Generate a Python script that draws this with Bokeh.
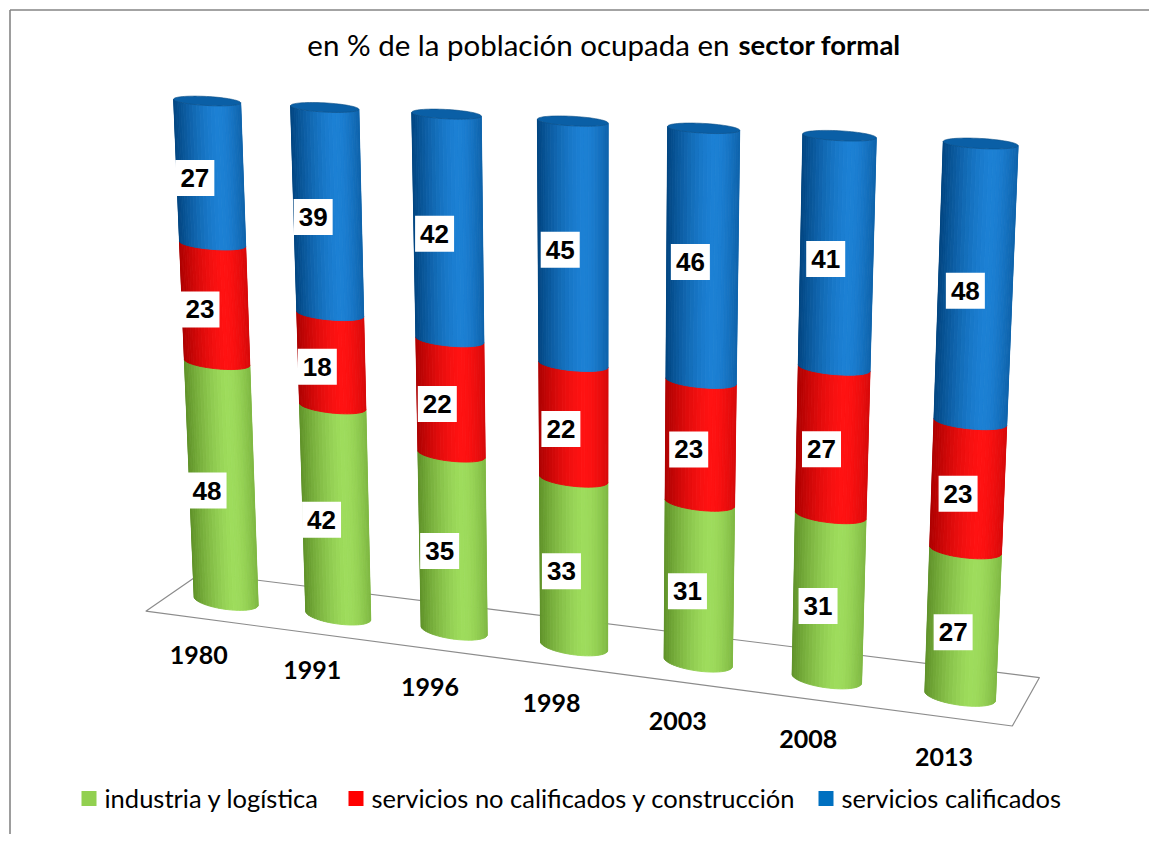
import numpy as np
from bokeh.plotting import figure
from bokeh.models import Range1d, ColumnDataSource
from bokeh.core.properties import value
from bokeh.embed import file_html
from bokeh.resources import INLINE

# ---------------- data ----------------
years = ["1980", "1991", "1996", "1998", "2003", "2008", "2013"]
industria = [48, 42, 35, 33, 31, 31, 27]
no_calificados = [23, 18, 22, 22, 23, 27, 23]
calificados = [27, 39, 42, 45, 46, 41, 48]
series_names = ["industria y logística",
                "servicios no calificados y construcción",
                "servicios calificados"]
title_regular = "en % de la población ocupada en"
title_bold = "sector formal"

# ---------------- styles ----------------
BASE = ["#92D050", "#FF0000", "#0070C0"]
LIGHT = [(158, 220, 92), (255, 18, 18), (28, 128, 212)]
DARK = [(92, 142, 38), (168, 0, 0), (0, 66, 124)]
CAP = "#0A5FA6"
CALIBRI = value("Lato")
ARIAL = value("Liberation Sans")

# ---------------- perspective layout (100% stacked, 3-D cylinders) ----------------
N = len(years)
ANCHOR_SRC = [(0, 0), (N - 1, 0), (0, 100), (N - 1, 100)]
ANCHOR_DST = [(225.5, 600.5), (959.5, 695.5), (206.5, 100.5), (980.0, 143.0)]
K_BOTTOM, K_TOP = 0.26, 0.135   # ellipse openness (vertical / horizontal)
N_STRIPS = 28


def solve_h(src, dst):
    A, B = [], []
    for (x, y), (u, w) in zip(src, dst):
        A.append([x, y, 1, 0, 0, 0, -u * x, -u * y]); B.append(u)
        A.append([0, 0, 0, x, y, 1, -w * x, -w * y]); B.append(w)
    h = np.linalg.solve(np.array(A, float), np.array(B, float))
    return np.append(h, 1.0).reshape(3, 3)


HM = solve_h(ANCHOR_SRC, ANCHOR_DST)


def proj(i, v):
    i = np.asarray(i, float); v = np.asarray(v, float)
    X = HM[0, 0] * i + HM[0, 1] * v + HM[0, 2]
    Y = HM[1, 0] * i + HM[1, 1] * v + HM[1, 2]
    W = HM[2, 0] * i + HM[2, 1] * v + HM[2, 2]
    return X / W, Y / W


def radius(i):
    return 0.29 - 0.005 * i


def surface(i, v, theta):
    r = radius(i)
    lx, ly = proj(i - r, v)
    rx, ry = proj(i + r, v)
    cx, cy = (lx + rx) / 2, (ly + ry) / 2
    ax, ay = (rx - lx) / 2, (ry - ly) / 2
    half = np.hypot(ax, ay)
    b = half * (K_BOTTOM + (K_TOP - K_BOTTOM) * np.asarray(v) / 100.0)
    x = cx + np.cos(theta) * ax
    y = cy + np.cos(theta) * ay + np.sin(theta) * b
    return x, y, b


def shade(k, u):
    if u < 0.35:
        s = 0.55 + 0.45 * np.sin(np.pi / 2 * u / 0.35)
    else:
        s = 1 - 0.95 * ((u - 0.35) / 0.65) ** 1.5
    l, d = LIGHT[k], DARK[k]
    c = [int(round(d[j] + s * (l[j] - d[j]))) for j in range(3)]
    return "#%02x%02x%02x" % tuple(c)


series = [industria, no_calificados, calificados]
totals = [sum(s[n] for s in series) for n in range(N)]

# ---------------- figure ----------------
p = figure(width=1149, height=834, x_range=Range1d(0, 1149), y_range=Range1d(834, 0),
           output_backend="svg", toolbar_location=None, min_border=0,
           x_axis_location=None, y_axis_location=None)
p.grid.visible = False
p.outline_line_color = None
p.background_fill_color = "white"
p.border_fill_color = "white"

# chart border (left/top visible in reference)
p.segment(x0=[9.5, 9.5], y0=[9.5, 9.5], x1=[1149, 9.5], y1=[9.5, 834],
          line_color="#858585", line_width=1.6)

# floor
FLOOR_I = [-0.745, N - 1 + 0.39, N - 1 + 0.57, -0.22]
FLOOR_V = [-4.4, -4.4, 5.4, 5.2]
fx, fy = proj(FLOOR_I, FLOOR_V)
p.patch(list(fx), list(fy), fill_color="white", line_color="#8C8C8C", line_width=1.2)

# cylinders
xs, ys, cols = [], [], []
cap_xs, cap_ys = [], []
thetas = np.linspace(np.pi, 0, N_STRIPS + 1)
for n in range(N):
    cum = 0.0
    for k, s in enumerate(series):
        v0 = cum / totals[n] * 100
        cum += s[n]
        v1 = cum / totals[n] * 100
        for t in range(N_STRIPS):
            ta, tb = thetas[t], thetas[t + 1]
            xa0, ya0, _ = surface(n, v0, ta)
            xb0, yb0, _ = surface(n, v0, tb)
            xb1, yb1, _ = surface(n, v1, tb)
            xa1, ya1, _ = surface(n, v1, ta)
            xs.append([float(xa0), float(xb0), float(xb1), float(xa1)])
            ys.append([float(ya0), float(yb0), float(yb1), float(ya1)])
            u = (1 - np.cos((ta + tb) / 2)) / 2
            cols.append(shade(k, u))
    tt = np.linspace(0, 2 * np.pi, 72)
    cx_, cy_, _ = surface(n, 100.0, tt)
    cap_xs.append(list(cx_)); cap_ys.append(list(cy_))

p.patches(xs="xs", ys="ys", fill_color="c", line_color="c", line_width=0.9,
          source=ColumnDataSource(dict(xs=xs, ys=ys, c=cols)))
p.patches(cap_xs, cap_ys, fill_color=CAP, line_color="#0B4F86", line_width=0.6)

# data labels
lx_, ly_, lt_ = [], [], []
for n in range(N):
    cum = 0.0
    for k, s in enumerate(series):
        v0 = cum / totals[n] * 100
        cum += s[n]
        v1 = cum / totals[n] * 100
        vm = (v0 + v1) / 2
        x, _ = proj(n - 0.13 + 0.01 * n, vm)
        _, y, b = surface(n, vm, np.pi / 2)
        lx_.append(float(x)); ly_.append(float(y)); lt_.append(str(s[n]))
lab = ColumnDataSource(dict(x=lx_, y=ly_, t=lt_))
p.rect(x="x", y="y", width=39, height=36, width_units="screen", height_units="screen",
       fill_color="white", line_color=None, source=lab)
p.text(x="x", y="y", text="t", source=lab, text_font=ARIAL, text_font_style="bold",
       text_font_size="26px", text_align="center", text_baseline="middle", text_color="black")

# category labels
idx = np.arange(N)
cx, cy = proj(idx - 0.27 + 0.028 * idx, np.full(N, -12.2))
p.text(x=list(cx), y=list(cy), text=years, text_font=CALIBRI, text_font_style="bold",
       text_font_size="25px", text_align="center", text_baseline="middle", text_color="black")

# title
p.text(x=[729], y=[44], text=[title_regular], text_font=CALIBRI, text_font_size="29.5px",
       text_align="right", text_baseline="alphabetic", text_color="black")
p.text(x=[738], y=[44], text=[title_bold], text_font=CALIBRI, text_font_style="bold",
       text_font_size="27.5px", text_align="left", text_baseline="alphabetic", text_color="black")

# legend
LEG_SQ_X = [88.5, 355.5, 825.5]
LEG_TX_X = [104, 371, 841]
p.rect(x=LEG_SQ_X, y=[798] * 3, width=15, height=15, width_units="screen",
       height_units="screen", fill_color=BASE, line_color=None)
p.text(x=LEG_TX_X, y=[797] * 3, text=series_names, text_font=CALIBRI,
       text_font_size="25.5px", text_align="left", text_baseline="alphabetic", text_color="black")

open("out.html", "w").write(file_html(p, INLINE))
